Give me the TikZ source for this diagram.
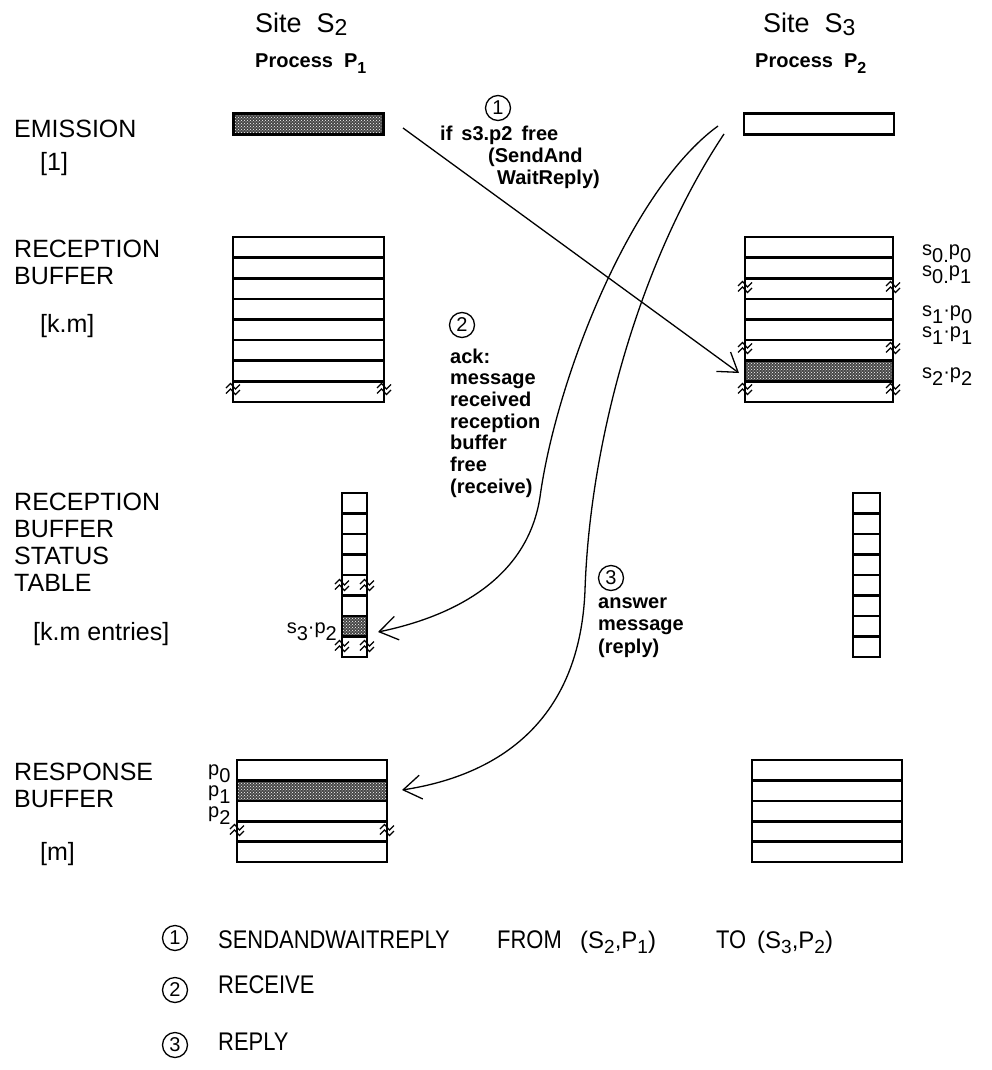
\documentclass[tikz,border=0pt]{standalone}
\usepackage{fontspec}
\setmainfont{Liberation Sans}
\newfontfamily\legendfont[FakeStretch=0.86]{Liberation Sans}
\usetikzlibrary{arrows.meta,patterns}

% lowered index, as in s_0 or p_2
\newcommand{\lo}[1]{\raisebox{-7pt}{#1}}
% lowered index in the legend
\newcommand{\lgi}[1]{\raisebox{-5pt}{\fontsize{19}{22}\selectfont #1}}
% break mark across a vertical edge
\newcommand{\brkmark}[2]{%
  \begin{scope}[shift={(#1,#2)}]
    \draw[brk] (-7,0) -- (-2.5,-4.5) -- (2.5,1) -- (7,-3.5);
    \draw[brk] (-7,5.5) -- (-2.5,1) -- (2.5,6.5) -- (7,2);
  \end{scope}}

\begin{document}
\begin{tikzpicture}[x=1pt,y=-1pt,
  buf/.style={line width=2.6pt},
  bar/.style={draw,line width=2.6pt,minimum width=150pt,minimum height=21pt,inner sep=0pt},
  stipple/.style={preaction={fill=black!72},pattern=crosshatch dots,pattern color=white},
  brk/.style={line width=1.2pt},
  lbl/.style={anchor=base west,inner sep=0pt,font=\fontsize{25}{28}\selectfont},
  ttl/.style={anchor=base west,inner sep=0pt,font=\fontsize{27}{30}\selectfont},
  proc/.style={anchor=base west,inner sep=0pt,font=\fontsize{20}{22}\selectfont\bfseries},
  ann/.style={anchor=base west,inner sep=0pt,font=\fontsize{20}{22}\selectfont\bfseries},
  idx/.style={anchor=base west,inner sep=0pt,font=\fontsize{20}{22}\selectfont},
  num/.style={circle,draw,line width=1.3pt,minimum size=25pt,inner sep=0pt,font=\fontsize{20}{22}\selectfont},
  leg/.style={anchor=base west,inner sep=0pt,font=\legendfont\fontsize{25.5}{28}\selectfont},
  pair/.style={anchor=base west,inner sep=0pt,font=\fontsize{24}{28}\selectfont},
  arr/.style={-{Straight Barb[length=18pt,width=24pt]},line width=1.3pt}
]
\useasboundingbox (0,0) rectangle (992,1070);

% site headers
\node[ttl] (siteL) at (255,33) {Site\ \ S\raisebox{-3pt}{\fontsize{23}{24}\selectfont 2}};
\node[ttl] (siteR) at (763,33) {Site\ \ S\raisebox{-3pt}{\fontsize{23}{24}\selectfont 3}};
\node[proc] (procL) at (255,68) {Process\ \ P\raisebox{-6pt}{\fontsize{16}{18}\selectfont 1}};
\node[proc] (procR) at (755,68) {Process\ \ P\raisebox{-6pt}{\fontsize{16}{18}\selectfont 2}};

% row labels
\node[lbl] (emis) at (14,137) {EMISSION};
\node[lbl] (emisN) at (40,170) {[1]};
\node[lbl] (recA) at (14,257) {RECEPTION};
\node[lbl] (recB) at (14,284) {BUFFER};
\node[lbl] (recN) at (40,332) {[k.m]};
\node[lbl] (stA) at (14,510) {RECEPTION};
\node[lbl] (stB) at (14,537) {BUFFER};
\node[lbl] (stC) at (14,564) {STATUS};
\node[lbl] (stD) at (14,591) {TABLE};
\node[lbl] (stN) at (33,640) {[k.m entries]};
\node[lbl] (rspA) at (14,780) {RESPONSE};
\node[lbl] (rspB) at (14,807) {BUFFER};
\node[lbl] (rspN) at (40,860) {[m]};

% emission buffers
\node[bar,stipple] (emitL) at (308.5,124) {};
\node[bar] (emitR) at (819,124) {};

% reception buffers
\foreach \k in {0,...,7} {
  \draw[buf] (233,{237+20.6*\k}) rectangle (384,{257.6+20.6*\k});
  \draw[buf] (745,{237+20.6*\k}) rectangle (893,{257.6+20.6*\k});
}
\draw[buf,stipple] (745,360.6) rectangle (893,381.2);
\brkmark{233}{388}\brkmark{384}{388}
\foreach \y in {286,347,388} {\brkmark{745}{\y}\brkmark{893}{\y}}
\node[idx] (s0p0) at (922,255) {s\lo{0.}p\lo{0}};
\node[idx] (s0p1) at (922,276) {s\lo{0.}p\lo{1}};
\node[idx] (s1p0) at (922,316) {s\lo{1}·p\lo{0}};
\node[idx] (s1p1) at (922,337) {s\lo{1}·p\lo{1}};
\node[idx] (s2p2) at (922,378) {s\lo{2}·p\lo{2}};

% reception buffer status tables
\foreach \k in {0,...,7} {
  \draw[buf] (342,{493+20.5*\k}) rectangle (367,{513.5+20.5*\k});
  \draw[buf] (853,{493+20.5*\k}) rectangle (880,{513.5+20.5*\k});
}
\draw[buf,stipple] (342,616) rectangle (367,636.5);
\foreach \y in {584,645} {\brkmark{342}{\y}\brkmark{367}{\y}}
\node[idx,anchor=base east] (s3p2) at (337,633) {s\lo{3}·p\lo{2}};

% response buffers
\foreach \k in {0,...,4} {
  \draw[buf] (237,{760+20.4*\k}) rectangle (387,{780.4+20.4*\k});
  \draw[buf] (752,{760+20.4*\k}) rectangle (902,{780.4+20.4*\k});
}
\draw[buf,stipple] (237,780.4) rectangle (387,800.8);
\brkmark{237}{829}\brkmark{387}{829}
\node[idx] (p0) at (208,775) {p\lo{0}};
\node[idx] (p1) at (208,796) {p\lo{1}};
\node[idx] (p2) at (208,817) {p\lo{2}};

% message 1
\node[num] (m1) at (498,108) {1};
\node[ann] (m1a) at (440,140) {if\hspace{9pt}s3.p2\hspace{9pt}free};
\node[ann] (m1b) at (488,162) {(SendAnd};
\node[ann] (m1c) at (497,184) {WaitReply)};
\coordinate (a1) at (403,128);
\coordinate (tipB) at (739,373);
\draw[arr] (a1) -- (tipB);

% message 2
\node[num] (m2) at (462,325) {2};
\foreach \t [count=\i from 0] in {ack:,message,received,reception,buffer,free,(receive)}
  \node[ann] (ack\i) at (450,{363+21.7*\i}) {\t};
\coordinate (c2) at (718,126);
\coordinate (tipS) at (378,632);
\draw[arr] (c2) .. controls (630,190) and (556,380) .. (540,497)
  .. controls (528,575) and (460,615) .. (tipS);

% message 3
\node[num] (m3) at (611,578) {3};
\node[ann] (ans1) at (598,608) {answer};
\node[ann] (ans2) at (598,630) {message};
\node[ann] (ans3) at (598,653) {(reply)};
\coordinate (c3) at (724,134);
\coordinate (tipR) at (402,790);
\draw[arr] (c3) .. controls (640,260) and (590,440) .. (585,590)
  .. controls (580,720) and (500,775) .. (tipR);

% legend
\node[num] (k1) at (175,938) {1};
\node[num] (k2) at (175,990) {2};
\node[num] (k3) at (175,1045) {3};
\node[leg] (l1) at (218,948) {SENDANDWAITREPLY};
\node[leg] (l1f) at (497,948) {FROM};
\node[pair] (l1s) at (580,948) {(S\lgi{2},P\lgi{1})};
\node[leg] (l1t) at (716,948) {TO};
\node[pair] (l1d) at (757,948) {(S\lgi{3},P\lgi{2})};
\node[leg] (l2) at (218,993) {RECEIVE};
\node[leg] (l3) at (218,1050) {REPLY};
\end{tikzpicture}
\end{document}
